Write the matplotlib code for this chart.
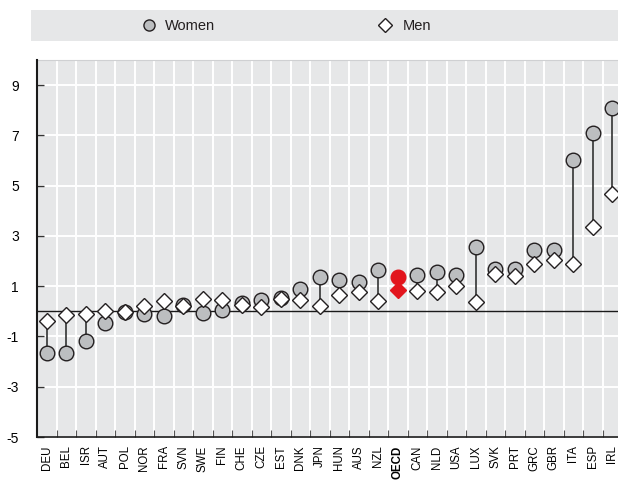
import matplotlib
matplotlib.use("Agg")
import matplotlib.pyplot as plt
from matplotlib import font_manager

installed = {f.name for f in font_manager.fontManager.ttflist}
narrow = [n for n in ["Liberation Sans Narrow", "Arial Narrow"] if n in installed]
plt.rcParams['font.family'] = narrow + ['Liberation Sans', 'DejaVu Sans']
is_narrow = bool(narrow)

countries = ["DEU", "BEL", "ISR", "AUT", "POL", "NOR", "FRA", "SVN", "SWE", "FIN",
             "CHE", "CZE", "EST", "DNK", "JPN", "HUN", "AUS", "NZL", "OECD", "CAN",
             "NLD", "USA", "LUX", "SVK", "PRT", "GRC", "GBR", "ITA", "ESP", "IRL"]
women = [-1.66, -1.64, -1.20, -0.47, -0.02, -0.10, -0.20, 0.25, -0.07, 0.06,
         0.33, 0.46, 0.55, 0.89, 1.37, 1.26, 1.15, 1.66, 1.37, 1.46,
         1.58, 1.46, 2.56, 1.69, 1.70, 2.46, 2.43, 6.01, 7.11, 8.09]
men = [-0.40, -0.16, -0.11, 0.00, -0.03, 0.20, 0.40, 0.22, 0.49, 0.44,
       0.26, 0.17, 0.49, 0.44, 0.22, 0.66, 0.77, 0.40, 0.86, 0.80,
       0.77, 0.99, 0.37, 1.49, 1.39, 1.90, 2.06, 1.87, 3.35, 4.65]
yticks = [-5, -3, -1, 1, 3, 5, 7, 9]

highlight = "OECD"
bg = "#e6e7e8"
women_fill = "#bcbec0"
edge = "#231f20"
red = "#e2151d"

xlab_size = 10 if is_narrow else 8.3
fig = plt.figure(figsize=(6.18, 4.86), dpi=100)
ax = fig.add_axes([37 / 618, 49 / 486, 585 / 618, 377 / 486])
ax.set_facecolor(bg)

x = list(range(len(countries)))

# grid: white lines at category boundaries and at each y tick
for b in range(len(countries) + 1):
    ax.axvline(b - 0.5, color="white", lw=1.4, zorder=0.5)
for t in yticks:
    ax.axhline(t, color="white", lw=1.4, zorder=0.5)
ax.axhline(0, color="#1a1a1a", lw=1.0, zorder=1)

for i, c in enumerate(countries):
    if c == highlight:
        ax.plot([i, i], [men[i], women[i]], color=red, lw=1.2, zorder=2)
        ax.plot(i, women[i], 'o', ms=10.5, mfc=red, mec=red, zorder=3)
        ax.plot(i, men[i], 'D', ms=8.5, mfc=red, mec=red, zorder=4)
    else:
        ax.plot([i, i], [men[i], women[i]], color="#333333", lw=1.2, zorder=2)
        ax.plot(i, women[i], 'o', ms=10.5, mfc=women_fill, mec=edge, mew=1.0, zorder=3)
        ax.plot(i, men[i], 'D', ms=8.5, mfc="white", mec=edge, mew=1.0, zorder=4)

ax.set_xlim(-0.5, len(countries) - 0.5)
ax.set_ylim(-5, 10)

ax.set_yticks(yticks)
ax.set_yticklabels([str(t) for t in yticks], fontsize=10)
ax.tick_params(axis="y", direction="in", length=5, width=1, color="#333333", pad=13)

ax.set_xticks([b - 0.5 for b in range(1, len(countries))], minor=False)
ax.set_xticklabels([])
ax.tick_params(axis="x", direction="in", length=5, width=0.8, color="#555555")
ax.set_xticks(x, minor=True)
ax.set_xticklabels(countries, minor=True, rotation=90, fontsize=xlab_size)
ax.tick_params(axis="x", which="minor", length=0, pad=6)
for lbl in ax.get_xticklabels(minor=True):
    if lbl.get_text() == highlight:
        lbl.set_fontweight("bold")

for side in ["top", "right"]:
    ax.spines[side].set_visible(False)
ax.spines["left"].set_linewidth(1.5)
ax.spines["left"].set_color("#1a1a1a")
ax.spines["bottom"].set_linewidth(1.2)
ax.spines["bottom"].set_color("#1a1a1a")
ax.plot([0, 1], [1, 1], transform=ax.transAxes, color="#cfd0d2", lw=0.8, clip_on=False)

# legend band
lax = fig.add_axes([31 / 618, 445 / 486, 587 / 618, 31 / 486])
lax.set_facecolor(bg)
lax.set_xlim(0, 1)
lax.set_ylim(0, 1)
lax.set_xticks([])
lax.set_yticks([])
for s in lax.spines.values():
    s.set_visible(False)
leg_size = 11.5 if is_narrow else 10.5
lax.plot(0.201, 0.5, 'o', ms=8, mfc=women_fill, mec=edge, mew=1.0)
lax.text(0.228, 0.5, "Women", va="center", ha="left", fontsize=leg_size, color="#231f20")
lax.plot(0.603, 0.5, 'D', ms=7, mfc="white", mec=edge, mew=1.0)
lax.text(0.633, 0.5, "Men", va="center", ha="left", fontsize=leg_size, color="#231f20")

fig.savefig("out.png", dpi=100)
